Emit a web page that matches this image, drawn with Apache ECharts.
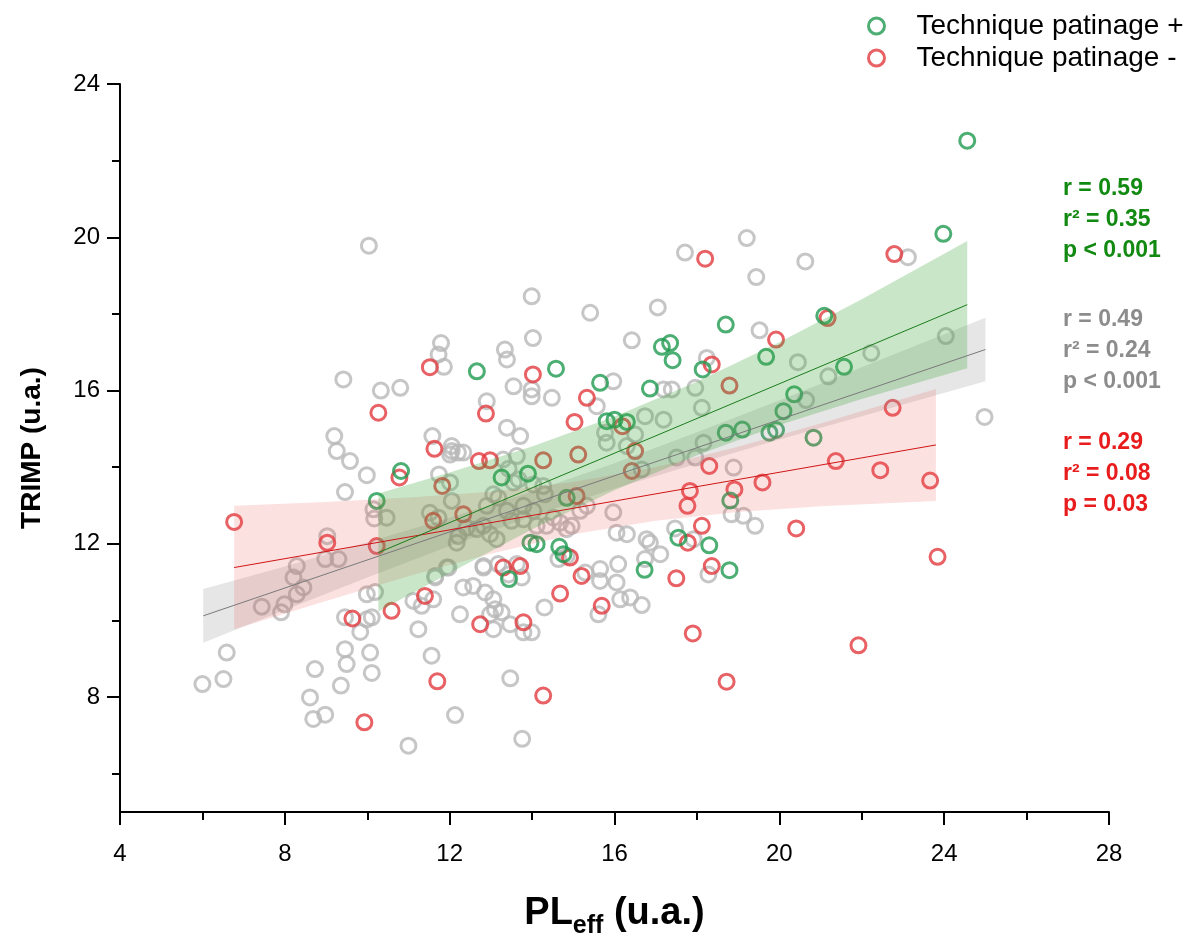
<!DOCTYPE html>
<html>
<head>
<meta charset="utf-8">
<script src="https://cdn.jsdelivr.net/npm/echarts@6/dist/echarts.min.js"></script>
<style>
html,body{margin:0;padding:0;background:#fff;overflow:hidden;}
#chart{width:1189px;height:934px;}
</style>
</head>
<body>
<div id="chart"></div>
<script>
// ---------- data ----------
const xTicks = [4, 8, 12, 16, 20, 24, 28];
const yMajorTicks = [8, 12, 16, 20, 24];
const yMinorTicks = [6, 10, 14, 18, 22];

const greenPoints = [
  [24.56,22.52],[23.98,20.09],[21.09,17.95],[18.70,17.72],[19.68,16.88],[21.57,16.62],
  [17.15,17.14],[17.35,17.24],[17.41,16.79],[18.14,16.55],[12.66,16.50],[14.58,16.57],
  [15.65,16.20],[16.86,16.05],[20.36,15.90],[20.10,15.46],[15.81,15.20],[16.00,15.24],
  [16.30,15.18],[18.70,14.90],[19.10,14.98],[19.76,14.90],[19.92,14.97],[20.83,14.77],
  [10.82,13.90],[10.23,13.12],[13.26,13.73],[13.90,13.83],[14.84,13.20],[18.81,13.13],
  [13.96,12.03],[14.11,11.99],[14.66,11.92],[14.76,11.73],[13.44,11.08],[17.55,12.16],
  [18.30,11.96],[18.79,11.31],[16.73,11.32]
];

const redPoints = [
  [22.79,19.56],[18.20,19.44],[21.17,17.89],[19.92,17.33],[18.36,16.68],[18.79,16.13],
  [14.02,16.42],[11.52,16.61],[15.33,15.81],[12.88,15.40],[10.27,15.42],[15.03,15.18],
  [16.19,15.07],[22.75,15.55],[11.63,14.48],[12.71,14.16],[12.98,14.18],[14.27,14.18],
  [15.12,14.33],[16.50,14.42],[16.42,13.90],[18.30,14.03],[21.37,14.16],[22.45,13.92],
  [23.66,13.65],[19.59,13.60],[17.83,13.38],[17.77,12.99],[18.91,13.42],[15.08,13.25],
  [10.78,13.73],[11.82,13.51],[6.77,12.57],[11.60,12.60],[12.33,12.77],[9.03,12.03],
  [10.23,11.94],[18.12,12.47],[17.78,12.03],[20.41,12.40],[23.84,11.66],[18.36,11.42],
  [17.50,11.10],[14.92,11.64],[15.20,11.16],[13.30,11.38],[13.71,11.42],[14.68,10.70],
  [15.69,10.38],[11.40,10.64],[10.59,10.25],[9.64,10.05],[12.74,9.90],[13.79,9.95],
  [17.90,9.66],[21.92,9.35],[11.70,8.41],[14.27,8.04],[18.72,8.40],[9.93,7.34]
];

const grayPoints = [
  [24.04,17.42],[23.12,19.48],[24.98,15.31],[22.23,16.98],[21.19,16.37],[20.45,16.74],
  [20.65,15.75],[20.63,19.37],[19.21,19.98],[19.44,18.96],[19.52,17.57],[17.71,19.60],
  [17.05,18.17],[15.41,18.03],[13.99,18.46],[14.02,17.37],[16.42,17.31],[13.34,17.07],
  [13.39,16.81],[18.24,16.85],[11.79,17.24],[11.73,16.94],[11.86,16.62],[10.04,19.78],
  [9.42,16.29],[10.33,16.00],[10.80,16.07],[13.55,16.11],[13.99,16.03],[13.99,15.85],
  [14.48,15.81],[15.97,16.24],[15.57,15.59],[17.19,16.03],[17.39,16.03],[17.96,16.07],
  [12.90,15.72],[16.74,15.33],[17.19,15.24],[18.12,15.55],[18.16,14.64],[13.39,15.03],
  [13.71,14.81],[12.33,14.38],[13.30,14.20],[13.63,14.29],[13.43,13.96],[15.81,14.64],
  [16.30,14.55],[16.50,14.85],[16.66,13.94],[17.51,14.25],[17.96,14.25],[18.89,13.99],
  [15.97,12.82],[15.77,14.90],[9.20,14.81],[9.26,14.42],[9.58,14.16],[9.99,13.79],
  [9.46,13.35],[11.58,14.81],[11.74,13.81],[12.01,13.60],[12.05,14.42],[12.20,14.38],
  [12.05,14.55],[12.01,14.33],[10.15,12.90],[10.17,12.66],[10.47,12.68],[11.52,12.81],
  [12.05,13.12],[12.17,12.03],[9.03,12.20],[8.29,11.42],[8.98,11.60],[9.30,11.60],
  [8.21,11.12],[8.45,10.86],[8.29,10.68],[7.99,10.42],[7.91,10.21],[7.44,10.36],
  [6.59,9.16],[6.00,8.34],[6.51,8.47],[8.73,8.73],[8.61,7.99],[8.69,7.43],
  [8.98,7.54],[9.46,9.25],[9.50,8.86],[9.36,8.30],[10.07,9.16],[10.11,8.63],
  [11.00,6.73],[11.56,9.08],[12.13,7.53],[9.46,10.08],[9.83,9.70],[9.99,10.03],
  [10.11,10.08],[9.99,10.68],[10.19,10.74],[11.24,9.77],[11.12,10.51],[11.32,10.38],
  [11.60,10.55],[11.65,11.12],[11.97,11.38],[12.25,10.16],[12.33,10.86],[12.57,10.90],
  [12.82,11.42],[12.86,10.73],[18.84,12.77],[19.13,12.73],[19.41,12.47],[18.28,11.20],
  [17.92,12.12],[17.47,12.40],[16.78,12.12],[16.86,12.03],[17.11,11.73],[16.74,11.60],
  [16.05,12.29],[16.30,12.25],[16.09,11.47],[16.05,10.99],[16.14,10.55],[16.38,10.60],
  [16.66,10.40],[15.65,11.34],[15.65,11.03],[15.29,11.25],[14.64,11.60],[14.84,11.68],
  [15.61,10.16],[14.30,10.34],[13.43,11.20],[13.75,11.12],[13.06,10.55],[13.10,10.29],
  [12.98,10.16],[13.26,10.21],[13.06,9.77],[13.47,9.90],[13.79,9.69],[13.99,9.69],
  [13.47,8.49],[13.76,6.91],[13.55,13.60],[13.67,13.68],[14.03,13.55],[14.27,13.51],
  [14.31,13.29],[13.06,13.29],[13.18,13.20],[12.90,12.99],[13.79,12.99],[14.03,12.86],
  [13.39,12.86],[11.73,12.68],[12.41,12.42],[12.66,12.38],[12.82,12.47],[12.98,12.25],
  [13.14,12.12],[13.50,12.60],[13.79,12.64],[14.11,12.47],[12.21,12.20],[14.52,12.68],
  [14.68,12.55],[14.84,12.38],[14.96,12.47],[14.35,12.47],[12.82,11.38],[13.18,11.47],
  [13.63,11.47],[11.93,11.38],[11.65,11.16],[15.17,12.86],[15.33,12.99]
];

// regression lines (end points) and confidence bands [x, lower, upper]
const greenLine = [[10.27,11.77],[24.56,18.24]];
const grayLine  = [[6.02,10.12],[25.00,17.07]];
const redLine   = [[6.77,11.38],[23.80,14.58]];

const greenBand = [
  [10.27,10.23,13.31],[12,11.24,13.86],[14,12.38,14.54],[16,13.40,15.32],
  [18,14.31,16.23],[20,15.10,17.26],[22,15.78,18.38],[24.56,16.58,19.90]
];
const grayBand = [
  [6.02,9.42,10.82],[8,10.27,11.41],[10,11.12,12.04],[12,11.94,12.68],[14,12.72,13.36],
  [16,13.44,14.10],[18,14.09,14.91],[20,14.72,15.74],[22,15.33,16.61],[25,16.24,17.90]
];
const redBand = [
  [6.77,9.77,12.99],[9,10.51,13.09],[11,11.15,13.21],[13,11.74,13.36],[15,12.25,13.61],
  [17,12.60,14.00],[19,12.83,14.53],[21,12.98,15.14],[23.8,13.12,16.04]
];

const statsGreen = ['r = 0.59', 'r² = 0.35', 'p < 0.001'];
const statsGray  = ['r = 0.49', 'r² = 0.24', 'p < 0.001'];
const statsRed   = ['r = 0.29', 'r² = 0.08', 'p = 0.03'];

const legendNames = ['Technique patinage +', 'Technique patinage -'];

// ---------- styles ----------
const GREEN = '#1f9a50';
const RED = '#e23a3f';
const GRAY = '#b8b8b8';
const FONT = '"Liberation Sans", Arial, sans-serif';

function bandSeries(band, fill) {
  return {
    type: 'custom',
    silent: true,
    z: 3,
    data: band,
    encode: { x: 0, y: [1, 2] },
    renderItem: function (params, api) {
      if (params.dataIndex !== 0) return null;
      const upper = band.map(p => api.coord([p[0], p[2]]));
      const lower = band.slice().reverse().map(p => api.coord([p[0], p[1]]));
      return {
        type: 'polygon',
        shape: { points: upper.concat(lower) },
        style: { fill: fill, stroke: null }
      };
    }
  };
}

function lineSeries(data, color) {
  return {
    type: 'line', data: data, symbol: 'none', silent: true, z: 4,
    lineStyle: { color: color, width: 1 }
  };
}

function scatterSeries(name, data, color) {
  return {
    type: 'scatter', name: name, data: data, symbol: 'circle', symbolSize: 15, z: 2,
    itemStyle: { color: 'rgba(0,0,0,0)', borderColor: color, borderWidth: 3 }
  };
}

function statText(lines, color, y0) {
  return lines.map((t, i) => ({
    type: 'text', left: 1063, top: y0 + i * 31,
    style: { text: t, fill: color, font: 'bold 23px ' + FONT }
  }));
}

const chart = echarts.init(document.getElementById('chart'), null, { renderer: 'canvas' });

chart.setOption({
  animation: false,
  backgroundColor: '#ffffff',
  grid: { left: 120, top: 84, width: 989, height: 728, containLabel: false, outerBoundsMode: 'none' },
  legend: {
    orient: 'vertical',
    left: 862, top: 7,
    itemWidth: 70, itemHeight: 16, itemGap: 4,
    icon: 'circle',
    textStyle: { fontSize: 28, color: '#000', fontFamily: FONT },
    data: [
      { name: legendNames[0], itemStyle: { color: 'rgba(0,0,0,0)', borderColor: GREEN, borderWidth: 3 } },
      { name: legendNames[1], itemStyle: { color: 'rgba(0,0,0,0)', borderColor: RED, borderWidth: 3 } }
    ]
  },
  xAxis: {
    type: 'value', min: xTicks[0], max: xTicks[xTicks.length - 1], interval: 4,
    name: '{a|PL}{s|eff}{a| (u.a.)}',
    nameLocation: 'middle', nameGap: 79,
    nameTextStyle: {
      rich: {
        a: { fontSize: 38, fontWeight: 'bold', fontFamily: FONT, color: '#000', lineHeight: 46 },
        s: { fontSize: 25, fontWeight: 'bold', fontFamily: FONT, color: '#000', lineHeight: 46, padding: [24, 0, 0, 0] }
      }
    },
    axisLine: { lineStyle: { color: '#000', width: 2 } },
    axisTick: { show: true, inside: false, length: 13, lineStyle: { color: '#000', width: 2 } },
    minorTick: { show: true, splitNumber: 2, length: 8, lineStyle: { color: '#000', width: 2 } },
    axisLabel: { fontSize: 24, color: '#000', fontFamily: FONT, margin: 30 },
    splitLine: { show: false }
  },
  yAxis: [
    {
      type: 'value', min: 5, max: 24,
      name: 'TRIMP (u.a.)', nameLocation: 'middle', nameGap: 74,
      nameTextStyle: { fontSize: 28, fontWeight: 'bold', color: '#000', fontFamily: FONT },
      axisLine: { show: true, lineStyle: { color: '#000', width: 2 } },
      axisTick: { show: true, inside: false, length: 13, customValues: yMajorTicks, lineStyle: { color: '#000', width: 2 } },
      axisLabel: { fontSize: 24, color: '#000', fontFamily: FONT, margin: 20, customValues: yMajorTicks },
      splitLine: { show: false }
    },
    {
      type: 'value', min: 5, max: 24, position: 'left',
      axisLine: { show: false },
      axisTick: { show: true, inside: false, length: 8, customValues: yMinorTicks, lineStyle: { color: '#000', width: 2 } },
      axisLabel: { show: false },
      splitLine: { show: false }
    }
  ],
  graphic: [].concat(
    statText(statsGreen, '#128a12', 177),
    statText(statsGray, '#8c8c8c', 308),
    statText(statsRed, '#e81c1c', 431)
  ),
  series: [
    scatterSeries('Tous', grayPoints, GRAY),
    scatterSeries(legendNames[1], redPoints, RED),
    scatterSeries(legendNames[0], greenPoints, GREEN),
    bandSeries(grayBand, 'rgba(140,140,140,0.22)'),
    bandSeries(redBand, 'rgba(240,80,80,0.17)'),
    bandSeries(greenBand, 'rgba(60,165,60,0.28)'),
    lineSeries(grayLine, '#7a7a7a'),
    lineSeries(redLine, '#d01515'),
    lineSeries(greenLine, '#1c7d1c')
  ]
});
</script>
</body>
</html>
